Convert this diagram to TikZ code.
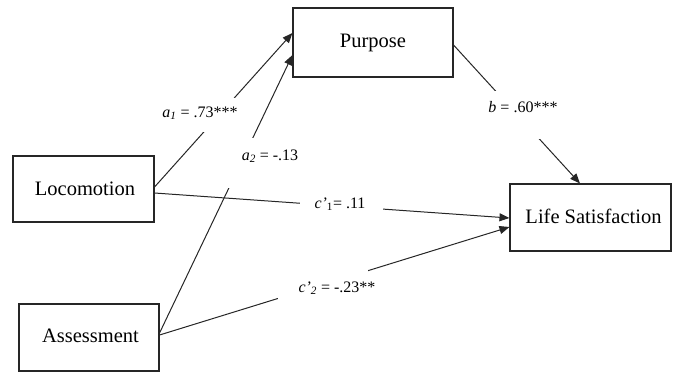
\documentclass[tikz,border=0pt]{standalone}
\usepackage{fontspec}
\setmainfont{Liberation Serif}
\usetikzlibrary{arrows.meta}
\begin{document}
\begin{tikzpicture}[x=1pt,y=-1pt,
  box/.style={draw=black!85, line width=1.1pt, inner sep=0pt, font=\fontsize{20.5}{24}\selectfont},
  conn/.style={draw=black!85, line width=1pt, -{Triangle[length=10pt,width=8pt]}},
  lbl/.style={inner sep=0pt, font=\fontsize{16}{19}\selectfont},
  gap/.style={fill=white}]
\useasboundingbox (0,0) rectangle (677,373);
% boxes
\node[box, minimum width=160pt, minimum height=69pt] (pur) at (373,42.5) {Purpose};
\node[box, minimum width=141pt, minimum height=66pt] (loc) at (83.5,189) {\hspace{3pt}Locomotion};
\node[box, minimum width=140pt, minimum height=67pt] (ass) at (89,337.5) {\raisebox{3pt}{\hspace{3pt}Assessment}};
\node[box, minimum width=161pt, minimum height=67pt] (ls) at (590.5,217.5) {\raisebox{2pt}{\hspace{6pt}Life Satisfaction}};
% connectors
\draw[conn] ([yshift=2pt]loc.east) -- ([yshift=9.5pt]pur.west);
\draw[conn] ([yshift=4.5pt]ass.east) -- ([yshift=-12.5pt]pur.west);
\draw[conn] ([yshift=-2.5pt]pur.east) -- ([xshift=-10.5pt]ls.north);
\draw[conn] ([yshift=-4pt]loc.east) -- ([yshift=-0.5pt]ls.west);
\draw[conn] ([yshift=2.5pt]ass.east) -- ([yshift=-9.5pt]ls.west);
% gaps behind labels
\path[gap] (160,98) rectangle (240,132);
\path[gap] (226,138) rectangle (300,188);
\path[gap] (300,195) rectangle (383,214);
\path[gap] (278,269) rectangle (368,302);
\path[gap] (486,91) rectangle (560,139);
% labels
\node[lbl] (la1) at (200,113) {\textit{a}\textsubscript{\textit{1}} = .73***};
\node[lbl] (la2) at (270,156) {\textit{a}\textsubscript{\textit{2}} = -.13};
\node[lbl] (lc1) at (340,204) {\textit{c’}\textsubscript{1}= .11};
\node[lbl] (lc2) at (337,288) {\textit{c’}\textsubscript{\textit{2}} = -.23**};
\node[lbl] (lb) at (523,107) {\textit{b} = .60***};
\end{tikzpicture}
\end{document}
